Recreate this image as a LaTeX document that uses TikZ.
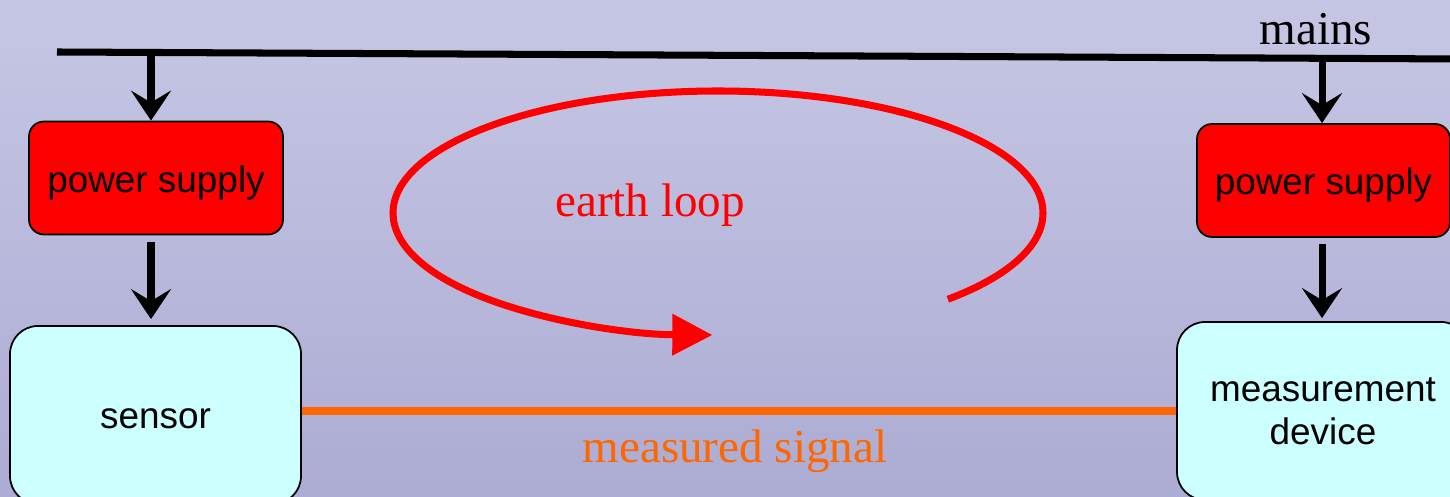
\documentclass[tikz,border=0pt]{standalone}
\usepackage{fontspec}
\setmainfont{Liberation Serif}
\setsansfont{Liberation Sans}
\usetikzlibrary{arrows.meta,calc,positioning}

\definecolor{bgtop}{RGB}{198,198,228}
\definecolor{bgbot}{RGB}{172,172,212}
\definecolor{boxcyan}{RGB}{204,255,255}
\definecolor{sigorange}{RGB}{255,102,0}

\tikzset{
    supplybox/.style={draw=black, line width=0.5pt, fill=red, rounded corners=0.15cm,
        minimum width=2.54cm, minimum height=1.13cm, inner sep=0pt,
        text height=8.2pt, text depth=0pt,
        font=\sffamily\fontsize{10.5}{12.2}\selectfont},
    devicebox/.style={draw=black, line width=0.5pt, fill=boxcyan, rounded corners=0.28cm,
        minimum width=2.92cm, minimum height=1.78cm, inner sep=0pt, align=center,
        font=\sffamily\fontsize{10.5}{12.2}\selectfont},
    feed/.style={line width=2pt, -{Stealth[length=3mm, width=4mm, inset=1.2mm]}},
    biglabel/.style={font=\fontsize{13.4}{16}\selectfont, inner sep=0pt}
}

\begin{document}
\begin{tikzpicture}
    \useasboundingbox (0,0) rectangle (14.5,4.97);
    \shade[top color=bgtop, bottom color=bgbot] (0,0) rectangle (14.5,4.97);

    % mains rail
    \coordinate (railL) at (0.57,4.45);
    \coordinate (railR) at (14.6,4.38);
    \draw[line width=2pt] (railL) -- (railR);
    \node[biglabel, anchor=base] (mains) at (13.16,4.52) {mains};
    \coordinate (tap1) at (1.51,4.445);
    \coordinate (tap2) at (13.22,4.39);

    % boxes
    \node[supplybox] (ps1) at (1.56,3.19) {power supply};
    \node[supplybox, minimum width=2.53cm] (ps2) at (13.235,3.165) {power supply};
    \node[devicebox, minimum width=2.91cm, text height=7.4pt, text depth=0pt] (sensor) at (1.555,0.82) {sensor};
    \node[devicebox] (meas) at (13.23,0.86) {measurement\\device};

    % supply arrows
    \draw[feed] (tap1) -- (tap1 |- ps1.north);
    \draw[feed] (tap2) -- (tap2 |- ps2.north);
    \draw[feed] ([yshift=-0.07cm]tap1 |- ps1.south) -- ([yshift=0.06cm]tap1 |- sensor.north);
    \draw[feed] ([yshift=-0.06cm]tap2 |- ps2.south) -- ([yshift=0.03cm]tap2 |- meas.north);

    % signal line
    \draw[sigorange, line width=2.2pt] (sensor.east |- meas.west) -- (meas.west);
    \node[biglabel, sigorange, anchor=base] (siglabel) at (7.35,0.34) {measured signal};

    % earth loop
    \coordinate (loopc) at (7.18,2.84);
    \draw[red, line width=2pt, -{Triangle[length=4mm, width=4mm]}]
        ($(loopc)+(-45:3.25 and 1.22)$) arc[start angle=-45, end angle=269, x radius=3.25cm, y radius=1.22cm];
    \node[biglabel, red, anchor=base] (looplabel) at (6.50,2.80) {earth loop};
\end{tikzpicture}
\end{document}
